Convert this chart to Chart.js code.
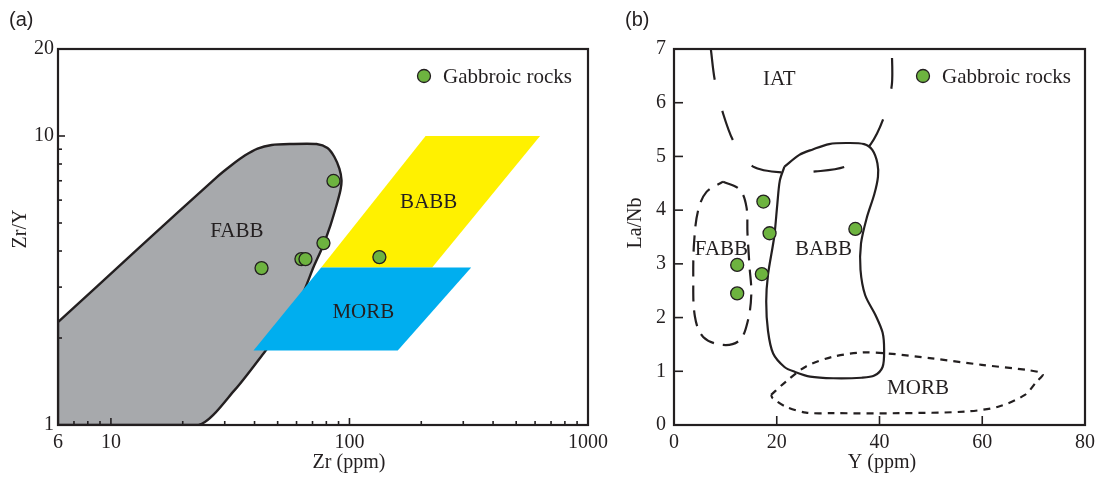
<!DOCTYPE html>
<html>
<head>
<meta charset="utf-8">
<script src="https://cdn.jsdelivr.net/npm/chart.js@4.4.1/dist/chart.umd.min.js"></script>
<style>
  html, body { margin: 0; padding: 0; background: #fff; }
  #wrap { position: relative; width: 1101px; height: 477px; overflow: hidden; background: #fff; }
  #pa { position: absolute; left: 0; top: 0; }
  #pb { position: absolute; left: 600px; top: 0; }
</style>
</head>
<body>
<div id="wrap">
  <canvas id="pa" width="620" height="477"></canvas>
  <canvas id="pb" width="501" height="477"></canvas>
</div>
<script>
// ---------- panel (a): Zr/Y vs Zr ----------
const sampleZr  = [42.8, 62.9, 65.4, 77.8, 85.7, 133.5];
const sampleZrY = [3.49, 3.75, 3.75, 4.26, 6.99, 3.81];

// FABB field outline (Zr, Zr/Y)
const fabbAZr  = [6, 12.9, 27.8, 32.1, 36.4, 41.2, 47.2, 56.1, 72.8, 80.9, 86.5, 90.8, 92.6, 91.7, 88.3, 83.3, 77.1, 70.7, 65.5, 58.9, 44.1, 33.0, 23.3, 6, 6];
const fabbAZrY = [2.27, 4.05, 7.21, 7.94, 8.56, 9.05, 9.31, 9.38, 9.38, 9.09, 8.46, 7.69, 7.04, 6.50, 5.77, 4.92, 4.13, 3.52, 3.00, 2.46, 1.79, 1.32, 1, 1, 2.27];
// BABB field
const babbAZr  = [76.1, 208.5, 629.5, 222.2, 76.1];
const babbAZrY = [3.51, 10, 10, 3.51, 3.51];
// MORB field
const morbAZr  = [76.1, 323.8, 159.4, 39.6, 76.1];
const morbAZrY = [3.51, 3.51, 1.81, 1.81, 3.51];

const zrTickLabels   = [6, 10, 100, 1000];
const zrMajorTicks   = [10, 100, 1000];
const zrMinorTicks   = [7, 8, 9, 20, 30, 40, 50, 60, 70, 80, 90, 200, 300, 400, 500, 600, 700, 800, 900];
const zrYTickLabels  = [1, 10, 20];
const zrYMajorTicks  = [10];
const zrYMinorTicks  = [2, 3, 4, 5, 6, 7, 8, 9];

const fieldNamesA = ['FABB', 'BABB', 'MORB'];
const fieldNameZrA  = [33.7, 214.9, 114.3];
const fieldNameZrYA = [4.69, 5.88, 2.45];

// ---------- panel (b): La/Nb vs Y ----------
const sampleY    = [17.4, 18.6, 17.1, 12.3, 12.3, 35.3];
const sampleLaNb = [4.16, 3.57, 2.81, 2.98, 2.45, 3.65];

const babbBY    = [21.5, 24.4, 27.0, 30.2, 33.5, 37.0, 38.6, 39.6, 39.7, 39.0, 37.5, 36.4, 36.3, 37.2, 39.3, 40.6, 40.9, 40.6, 39.0, 36.5, 31.0, 26.5, 23.5, 21.5, 19.3, 18.3, 17.95, 18.3, 19.5, 20.1, 20.6, 21.5];
const babbBLaNb = [4.81, 5.03, 5.13, 5.23, 5.25, 5.23, 5.12, 4.87, 4.62, 4.30, 3.85, 3.38, 2.89, 2.42, 2.03, 1.72, 1.40, 1.08, 0.92, 0.88, 0.87, 0.90, 0.99, 1.08, 1.33, 1.75, 2.30, 2.80, 3.50, 4.10, 4.55, 4.81];

const fabbBY    = [9.55, 12.8, 14.1, 14.3, 14.7, 15.05, 14.4, 12.8, 9.55, 5.68, 4.07, 3.75, 3.94, 4.71, 6.33, 9.55];
const fabbBLaNb = [4.53, 4.38, 4.06, 3.57, 2.95, 2.45, 1.95, 1.58, 1.49, 1.64, 2.02, 2.76, 3.44, 4.00, 4.34, 4.53];

const morbBY    = [18.9, 21.8, 25.7, 30.9, 36.7, 41.8, 50.2, 59.9, 69.0, 71.8, 70.5, 68.3, 63.1, 56.7, 43.8, 30.9, 25.7, 21.8, 19.2, 18.9];
const morbBLaNb = [0.56, 0.81, 1.09, 1.27, 1.35, 1.33, 1.24, 1.12, 1.02, 0.95, 0.80, 0.56, 0.34, 0.25, 0.22, 0.22, 0.23, 0.34, 0.50, 0.56];

const iatBY    = [7.17, 7.94, 9.55, 11.8, 15.4, 21.2, 27.6, 33.8, 38.3, 40.9, 42.4, 42.4];
const iatBLaNb = [7.0, 6.42, 5.80, 5.24, 4.81, 4.70, 4.72, 4.83, 5.23, 5.74, 6.33, 7.0];

const yTickLabels    = [0, 20, 40, 60, 80];
const laNbTickLabels = [0, 1, 2, 3, 4, 5, 6, 7];

const fieldNamesB  = ['IAT', 'FABB', 'BABB', 'MORB'];
const fieldNameYB  = [20.5, 9.24, 29.1, 47.5];
const fieldNameLaNbB = [6.44, 3.26, 3.26, 0.68];

// ---------- styling ----------
const INK = '#231f20';
const SERIF = "'Liberation Serif', 'Times New Roman', serif";
const SANS = "'Liberation Sans', Arial, sans-serif";
const DOT = '#6db33f';

const pts = (xs, ys) => xs.map((x, i) => ({ x, y: ys[i] }));

// frame, inward ticks, field names, legend and captions
const decor = {
  id: 'decor',
  afterDatasetsDraw(chart, args, o) {
    const { ctx, chartArea: a, scales } = chart;
    const sx = scales.x, sy = scales.y;
    ctx.save();
    ctx.strokeStyle = INK;
    ctx.lineCap = 'butt';
    ctx.lineWidth = 1.6;
    const seg = (x1, y1, x2, y2) => { ctx.beginPath(); ctx.moveTo(x1, y1); ctx.lineTo(x2, y2); ctx.stroke(); };
    o.xMajor.forEach(v => { const p = sx.getPixelForValue(v); seg(p, a.bottom, p, a.bottom - o.majorLen); });
    o.xMinor.forEach(v => { const p = sx.getPixelForValue(v); seg(p, a.bottom, p, a.bottom - o.minorLen); });
    o.yMajor.forEach(v => { const p = sy.getPixelForValue(v); seg(a.left, p, a.left + o.majorLen, p); });
    o.yMinor.forEach(v => { const p = sy.getPixelForValue(v); seg(a.left, p, a.left + o.minorLen, p); });
    ctx.lineWidth = 2.2;
    ctx.strokeRect(a.left, a.top, a.right - a.left, a.bottom - a.top);

    ctx.fillStyle = INK;
    ctx.textAlign = 'center';
    ctx.textBaseline = 'middle';
    ctx.font = '21px ' + SERIF;
    o.names.forEach((n, i) => {
      ctx.fillText(n, sx.getPixelForValue(o.nameX[i]), sy.getPixelForValue(o.nameY[i]));
    });

    // legend
    const lx = a.left + o.legend[0], ly = a.top + o.legend[1];
    ctx.beginPath();
    ctx.arc(lx, ly, 6.5, 0, Math.PI * 2);
    ctx.fillStyle = DOT; ctx.fill();
    ctx.lineWidth = 1.3; ctx.strokeStyle = INK; ctx.stroke();
    ctx.fillStyle = INK;
    ctx.textAlign = 'left';
    ctx.font = '21px ' + SERIF;
    ctx.fillText('Gabbroic rocks', lx + 19, ly + 1);

    // axis titles
    ctx.textAlign = 'center';
    ctx.font = '20px ' + SERIF;
    ctx.fillText(o.xTitle, o.xTitlePos[0], o.xTitlePos[1]);
    ctx.save();
    ctx.translate(o.yTitlePos[0], o.yTitlePos[1]);
    ctx.rotate(-Math.PI / 2);
    ctx.fillText(o.yTitle, 0, 0);
    ctx.restore();

    // panel letter
    ctx.textAlign = 'left';
    ctx.font = '20px ' + SANS;
    ctx.fillText(o.tag, o.tagPos[0], o.tagPos[1]);
    ctx.restore();
  }
};

const tickFont = { family: SERIF, size: 20 };

function baseOptions() {
  return {
    responsive: false,
    animation: false,
    events: [],
    plugins: { legend: { display: false }, tooltip: { enabled: false } },
  };
}

// ---------- chart (a) ----------
const optA = baseOptions();
optA.layout = { padding: { left: 0, top: 49, right: 32, bottom: 0 } };
optA.scales = {
  x: {
    type: 'logarithmic', min: 6, max: 1000,
    grid: { display: false, drawTicks: false }, border: { display: false },
    afterBuildTicks: s => { s.ticks = zrTickLabels.map(v => ({ value: v })); },
    afterFit: s => { s.height = 52; },
    ticks: { color: INK, font: tickFont, padding: 6, maxRotation: 0, autoSkip: false, callback: v => String(v) }
  },
  y: {
    type: 'logarithmic', min: 1, max: 20,
    grid: { display: false, drawTicks: false }, border: { display: false },
    afterBuildTicks: s => { s.ticks = zrYTickLabels.map(v => ({ value: v })); },
    afterFit: s => { s.width = 58; },
    ticks: { color: INK, font: tickFont, padding: 4, autoSkip: false, callback: v => String(v) }
  }
};
optA.plugins.decor = {
  xMajor: zrMajorTicks, xMinor: zrMinorTicks, yMajor: zrYMajorTicks, yMinor: zrYMinorTicks,
  majorLen: 7, minorLen: 4,
  names: fieldNamesA, nameX: fieldNameZrA, nameY: fieldNameZrYA,
  legend: [366, 27],
  xTitle: 'Zr (ppm)', xTitlePos: [349, 463],
  yTitle: 'Zr/Y', yTitlePos: [21, 229],
  tag: '(a)', tagPos: [9, 20]
};

new Chart(document.getElementById('pa'), {
  type: 'scatter',
  data: {
    datasets: [
      { label: 'Gabbroic rocks', data: pts(sampleZr, sampleZrY), order: 0,
        pointRadius: 6.5, pointBackgroundColor: DOT, pointBorderColor: INK, pointBorderWidth: 1.3 },
      { label: 'MORB', data: pts(morbAZr, morbAZrY), order: 1, showLine: true, pointRadius: 0,
        borderWidth: 0, borderColor: 'rgba(0,0,0,0)', backgroundColor: '#00aeef', fill: 'shape', tension: 0 },
      { label: 'BABB', data: pts(babbAZr, babbAZrY), order: 2, showLine: true, pointRadius: 0,
        borderWidth: 0, borderColor: 'rgba(0,0,0,0)', backgroundColor: '#fff100', fill: 'shape', tension: 0 },
      { label: 'FABB', data: pts(fabbAZr, fabbAZrY), order: 3, showLine: true, pointRadius: 0,
        borderWidth: 2.4, borderColor: INK, backgroundColor: '#a7a9ac', fill: 'shape', tension: 0.25 }
    ]
  },
  options: optA,
  plugins: [decor]
});

// ---------- chart (b) ----------
const optB = baseOptions();
optB.layout = { padding: { left: 0, top: 49, right: 14, bottom: 0 } };
optB.scales = {
  x: {
    type: 'linear', min: 0, max: 80,
    grid: { display: false, drawTicks: false }, border: { display: false },
    afterBuildTicks: s => { s.ticks = yTickLabels.map(v => ({ value: v })); },
    afterFit: s => { s.height = 52; },
    ticks: { color: INK, font: tickFont, padding: 6, maxRotation: 0, autoSkip: false, callback: v => String(v) }
  },
  y: {
    type: 'linear', min: 0, max: 7,
    grid: { display: false, drawTicks: false }, border: { display: false },
    afterBuildTicks: s => { s.ticks = laNbTickLabels.map(v => ({ value: v })); },
    afterFit: s => { s.width = 74; },
    ticks: { color: INK, font: tickFont, padding: 8, autoSkip: false, callback: v => String(v) }
  }
};
optB.plugins.decor = {
  xMajor: [20, 40, 60], xMinor: [], yMajor: [1, 2, 3, 4, 5, 6], yMinor: [],
  majorLen: 9, minorLen: 4,
  names: fieldNamesB, nameX: fieldNameYB, nameY: fieldNameLaNbB,
  legend: [249, 27],
  xTitle: 'Y (ppm)', xTitlePos: [282, 463],
  yTitle: 'La/Nb', yTitlePos: [36, 223],
  tag: '(b)', tagPos: [25, 20]
};

const lineDs = (label, xs, ys, dash, order, tension) => ({
  label, data: pts(xs, ys), order, showLine: true, pointRadius: 0,
  borderWidth: 2.2, borderColor: INK, borderDash: dash, fill: false, tension
});

new Chart(document.getElementById('pb'), {
  type: 'scatter',
  data: {
    datasets: [
      { label: 'Gabbroic rocks', data: pts(sampleY, sampleLaNb), order: 0,
        pointRadius: 6.5, pointBackgroundColor: DOT, pointBorderColor: INK, pointBorderWidth: 1.3 },
      lineDs('BABB', babbBY, babbBLaNb, [], 1, 0.3),
      lineDs('FABB', fabbBY, fabbBLaNb, [16, 9], 2, 0.35),
      lineDs('MORB', morbBY, morbBLaNb, [7, 6], 3, 0.3),
      lineDs('IAT', iatBY, iatBLaNb, [31, 32], 4, 0.3)
    ]
  },
  options: optB,
  plugins: [decor]
});
</script>
</body>
</html>
